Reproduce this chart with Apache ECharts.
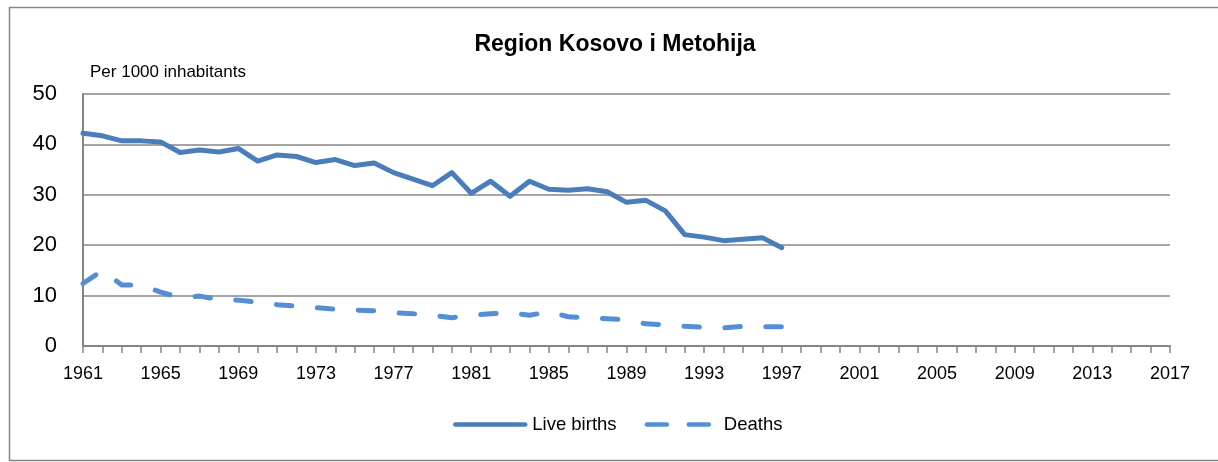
<!DOCTYPE html>
<html>
<head>
<meta charset="utf-8">
<script src="https://cdn.jsdelivr.net/npm/echarts@6/dist/echarts.min.js"></script>
<style>
html,body{margin:0;padding:0;background:#fff;}
#chart{width:1218px;height:462px;}
</style>
</head>
<body>
<div id="chart"></div>
<script>
const years = ['1961','1962','1963','1964','1965','1966','1967','1968','1969','1970',
  '1971','1972','1973','1974','1975','1976','1977','1978','1979','1980',
  '1981','1982','1983','1984','1985','1986','1987','1988','1989','1990',
  '1991','1992','1993','1994','1995','1996','1997','1998','1999','2000',
  '2001','2002','2003','2004','2005','2006','2007','2008','2009','2010',
  '2011','2012','2013','2014','2015','2016','2017'];
const liveBirths = [42.2,41.7,40.7,40.7,40.5,38.4,38.9,38.5,39.2,36.7,
  37.9,37.6,36.4,37.0,35.8,36.3,34.4,33.1,31.8,34.4,
  30.3,32.7,29.7,32.7,31.1,30.9,31.2,30.6,28.5,28.9,
  26.8,22.1,21.6,20.9,21.2,21.5,19.5];
const deaths = [12.4,15.0,12.1,12.1,10.7,9.6,9.9,9.2,9.1,8.7,
  8.2,7.9,7.6,7.3,7.1,7.0,6.6,6.4,6.1,5.6,
  6.1,6.4,6.6,6.1,6.8,5.8,5.6,5.4,5.2,4.4,
  4.2,3.9,3.7,3.6,3.9,3.8,3.8];
const yTicks = [0,10,20,30,40,50];
const titleText = 'Region Kosovo i Metohija';
const unitText = 'Per 1000 inhabitants';

const FONT = 'Liberation Sans';
const GRAY = '#868686';
const chart = echarts.init(document.getElementById('chart'), null, {renderer:'canvas'});
chart.setOption({
  animation:false,
  backgroundColor:'#fff',
  textStyle:{fontFamily:FONT},
  graphic:[
    {type:'rect', shape:{x:9.5,y:7.5,width:1230,height:453}, style:{fill:'none',stroke:GRAY,lineWidth:1.5}, silent:true, z:-1},
    {type:'text', x:615, y:45, style:{text:titleText, font:'bold 23px "Liberation Sans"', fill:'#000', align:'center', verticalAlign:'middle'}},
    {type:'text', x:90, y:72, style:{text:unitText, font:'17px "Liberation Sans"', fill:'#000', align:'left', verticalAlign:'middle'}}
  ],
  grid:{left:83, right:48, top:94, bottom:116, containLabel:false},
  legend:{
    left:448, top:410,
    itemWidth:70, itemHeight:14, itemGap:28,
    itemStyle:{opacity:0},
    textStyle:{fontSize:18.5, color:'#000', fontFamily:FONT, padding:[0,0,0,2]},
    data:[
      {name:'Live births', itemStyle:{opacity:0}, lineStyle:{width:4.5, cap:'round', type:'solid'}},
      {name:'Deaths', itemStyle:{opacity:0}, lineStyle:{width:4.5, cap:'round', type:[20,22]}}
    ]
  },
  xAxis:{
    type:'category', data:years, boundaryGap:false,
    axisLine:{show:true, lineStyle:{color:GRAY, width:2}},
    axisTick:{show:true, interval:0, length:7, lineStyle:{color:GRAY, width:1.5}},
    axisLabel:{interval:3, color:'#000', fontSize:18, fontFamily:FONT, margin:19},
    splitLine:{show:false}
  },
  yAxis:{
    type:'value', min:0, max:50, interval:10,
    axisLine:{show:true, lineStyle:{color:GRAY, width:2}},
    axisTick:{show:false},
    axisLabel:{color:'#000', fontSize:22, fontFamily:FONT, margin:26,
      formatter:function(v){return yTicks.indexOf(v)>=0 ? String(v) : '';}},
    splitLine:{show:true, lineStyle:{color:GRAY, width:1.5}}
  },
  series:[
    {name:'Live births', type:'line', data:liveBirths, symbol:'none', smooth:false,
     lineStyle:{color:'#4A7EBB', width:5, join:'round', cap:'round'}, itemStyle:{color:'#4A7EBB'}},
    {name:'Deaths', type:'line', data:deaths, symbol:'none', smooth:false,
     lineStyle:{color:'#558ED5', width:5, type:[15.5,25.5], join:'round', cap:'round'}, itemStyle:{color:'#558ED5'}}
  ]
});
</script>
</body>
</html>
